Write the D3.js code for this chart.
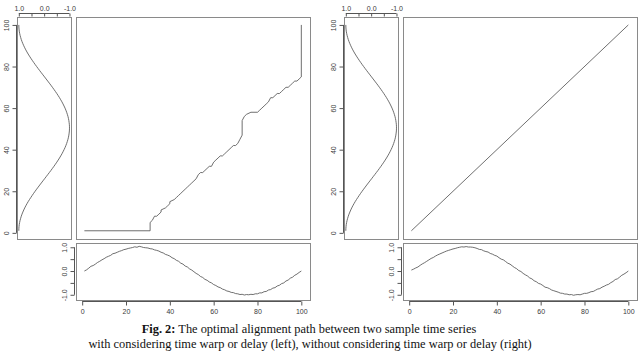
<!DOCTYPE html>
<html><head><meta charset="utf-8">
<script src="https://cdn.jsdelivr.net/npm/d3@7"></script>
<style>
html,body{margin:0;padding:0;background:#fff;}
svg{display:block;}
</style>
</head><body>
<script>
// ---------- DATA ----------
const indexTicks = [0, 20, 40, 60, 80, 100];
const valueTicks = [1.0, 0.5, 0.0, -0.5, -1.0];
const valueTickLabels = ["1.0", "", "0.0", "", "-1.0"];

// reference series (left, vertical panels)
const referenceLeft = [1.000,0.998,0.992,0.982,0.968,0.950,0.928,0.903,0.874,0.841,
0.805,0.766,0.724,0.679,0.631,0.580,0.527,0.472,0.415,0.357,
0.297,0.236,0.174,0.111,0.048,-0.016,-0.079,-0.142,-0.205,-0.267,
-0.327,-0.386,-0.444,-0.500,-0.554,-0.606,-0.655,-0.702,-0.745,-0.786,
-0.824,-0.858,-0.889,-0.916,-0.940,-0.960,-0.975,-0.987,-0.996,-1.000,
-1.000,-0.996,-0.987,-0.975,-0.960,-0.940,-0.916,-0.889,-0.858,-0.824,
-0.786,-0.745,-0.702,-0.655,-0.606,-0.554,-0.500,-0.444,-0.386,-0.327,
-0.267,-0.205,-0.142,-0.079,-0.016,0.048,0.111,0.174,0.236,0.297,
0.357,0.415,0.472,0.527,0.580,0.631,0.679,0.724,0.766,0.805,
0.841,0.874,0.903,0.928,0.950,0.968,0.982,0.992,0.998,1.000];
const referenceRight = referenceLeft.slice();

// query series (bottom panels)
const queryLeft = [0.00,0.05,0.12,0.20,0.23,0.29,0.36,0.41,0.47,0.52,
0.58,0.62,0.66,0.73,0.75,0.79,0.83,0.86,0.90,0.92,
0.95,0.97,0.99,1.02,1.00,1.04,1.02,0.99,0.98,0.97,
0.94,0.93,0.89,0.87,0.84,0.79,0.76,0.70,0.67,0.63,
0.56,0.52,0.45,0.41,0.33,0.29,0.21,0.17,0.09,0.04,
-0.03,-0.10,-0.15,-0.23,-0.27,-0.35,-0.39,-0.46,-0.50,-0.57,
-0.61,-0.67,-0.70,-0.76,-0.79,-0.84,-0.86,-0.90,-0.91,-0.95,
-0.96,-0.99,-0.98,-1.01,-0.99,-1.00,-0.98,-0.99,-0.96,-0.96,
-0.92,-0.92,-0.87,-0.86,-0.80,-0.78,-0.72,-0.70,-0.63,-0.60,
-0.53,-0.50,-0.42,-0.38,-0.30,-0.26,-0.18,-0.13,-0.06,0.00];
const queryRight = [0.04,0.08,0.13,0.17,0.24,0.30,0.35,0.41,0.47,0.53,
0.57,0.63,0.68,0.72,0.76,0.80,0.84,0.87,0.90,0.93,
0.95,0.98,1.00,1.02,1.01,1.03,1.01,1.01,1.00,0.98,
0.95,0.91,0.90,0.85,0.82,0.80,0.74,0.71,0.66,0.63,
0.56,0.50,0.47,0.40,0.33,0.29,0.22,0.15,0.10,0.02,
-0.02,-0.10,-0.16,-0.21,-0.29,-0.33,-0.41,-0.45,-0.52,-0.55,
-0.61,-0.68,-0.70,-0.74,-0.80,-0.83,-0.86,-0.89,-0.93,-0.94,
-0.97,-0.97,-1.00,-0.99,-1.02,-1.00,-0.99,-1.00,-0.97,-0.94,
-0.94,-0.91,-0.87,-0.86,-0.81,-0.76,-0.74,-0.68,-0.64,-0.59,
-0.56,-0.49,-0.44,-0.36,-0.33,-0.26,-0.18,-0.13,-0.07,0.00];

// alignment path (query index, reference index)
const pathLeftX = [1,31,31,32,33,34,35,36,36,38,39,40,40,42,43,44,45,46,47,48,49,50,51,52,53,54,55,56,57,58,59,60,61,62,63,64,65,66,67,68,69,70,71,72,73,73,74,75,77,80,81,82,83,84,85,86,87,88,89,90,91,92,93,94,95,96,97,98,99,100,100];
const pathLeftY = [1,1,5,6,8,8,9,10,11,12,13,14,15,16,17,18,19,20,21,22,23,24,25,26,28,29,29,30,31,32,32,34,35,36,37,37,38,39,40,41,42,42,43,45,47,54,56,57,58,58,59,60,61,62,63,65,65,66,67,67,68,69,70,70,71,72,73,73,74,75,100];
const pathRightX = [1,100];
const pathRightY = [1,100];

const captionBold = "Fig. 2:";
const captionLine1 = " The optimal alignment path between two sample time series";
const captionLine2 = "with considering time warp or delay (left), without considering time warp or delay (right)";

// ---------- DRAW ----------
const W = 640, H = 351;
const svg = d3.select("body").append("svg").attr("width", W).attr("height", H);
const lineCol = "#555", boxCol = "#8a8a8a", txtCol = "#3a3a3a";
const fontAx = "Liberation Sans, Arial, sans-serif";

const groups = [
  {off: 0, ref: referenceLeft, qry: queryLeft, px: pathLeftX, py: pathLeftY},
  {off: 327, ref: referenceRight, qry: queryRight, px: pathRightX, py: pathRightY}
];

function box(g, x0, y0, x1, y1) {
  g.append("rect").attr("x", Math.round(x0)+0.5).attr("y", Math.round(y0)+0.5)
    .attr("width", Math.round(x1)-Math.round(x0)).attr("height", Math.round(y1)-Math.round(y0))
    .attr("fill", "none").attr("stroke", boxCol).attr("stroke-width", 1);
}

groups.forEach(G => {
  const o = G.off;
  const g = svg.append("g");
  const idx = d3.range(1, 101);

  const mainX = d3.scaleLinear().domain([-2.96, 103.96]).range([o+75.7, o+310]);
  const mainY = d3.scaleLinear().domain([-2.96, 103.96]).range([239, 16.7]);
  const vertX = d3.scaleLinear().domain([1.06, -1.06]).range([o+17.3, o+71]);
  const botY = d3.scaleLinear().domain([-1.22, 1.18]).range([300, 243]);

  box(g, o+17.3, 16.7, o+71, 239);
  box(g, o+75.7, 16.7, o+310, 239);
  box(g, o+75.7, 243, o+310, 300);

  g.append("path").datum(idx)
    .attr("d", d3.line().x(i => vertX(G.ref[i-1])).y(i => mainY(i)))
    .attr("fill", "none").attr("stroke", lineCol).attr("stroke-width", 0.85);

  g.append("path").datum(d3.range(G.px.length))
    .attr("d", d3.line().x(k => mainX(G.px[k])).y(k => mainY(G.py[k])))
    .attr("fill", "none").attr("stroke", lineCol).attr("stroke-width", 0.85);

  g.append("path").datum(idx)
    .attr("d", d3.line().x(i => mainX(i)).y(i => botY(G.qry[i-1])))
    .attr("fill", "none").attr("stroke", lineCol).attr("stroke-width", 0.85);

  const topAx = g.append("g").attr("transform", "translate(0,13.5)")
    .call(d3.axisTop(vertX).tickValues(valueTicks).tickSize(-3)
      .tickFormat((d, i) => valueTickLabels[i]));
  topAx.select(".domain").attr("stroke", lineCol).attr("d", `M${vertX(1)},0H${vertX(-1)}`);
  topAx.selectAll(".tick line").attr("stroke", lineCol);
  topAx.selectAll(".tick text").attr("y", -3).attr("dy", "0em")
    .attr("fill", txtCol).style("font", `7px ${fontAx}`);

  const leftAx = g.append("g").attr("transform", `translate(${o+16.5},0)`)
    .call(d3.axisLeft(mainY).tickValues(indexTicks).tickSize(4).tickFormat(d3.format("d")));
  leftAx.select(".domain").attr("stroke", lineCol).attr("d", `M0,${mainY(0)}V${mainY(100)}`);
  leftAx.selectAll(".tick line").attr("stroke", lineCol);
  leftAx.selectAll(".tick text").attr("x", null).attr("dy", null)
    .attr("transform", "translate(-9,0) rotate(-90)")
    .attr("text-anchor", "middle").attr("dominant-baseline", "middle")
    .attr("fill", txtCol).style("font", `7px ${fontAx}`);

  const bAx = g.append("g").attr("transform", `translate(${o+74.5},0)`)
    .call(d3.axisLeft(botY).tickValues(valueTicks).tickSize(4)
      .tickFormat((d, i) => valueTickLabels[i]));
  bAx.select(".domain").attr("stroke", lineCol).attr("d", `M0,${botY(1)}V${botY(-1)}`);
  bAx.selectAll(".tick line").attr("stroke", lineCol);
  bAx.selectAll(".tick text").attr("x", null).attr("dy", null)
    .attr("transform", "translate(-9,0) rotate(-90)")
    .attr("text-anchor", "middle").attr("dominant-baseline", "middle")
    .attr("fill", txtCol).style("font", `7px ${fontAx}`);

  const xAx = g.append("g").attr("transform", "translate(0,301.5)")
    .call(d3.axisBottom(mainX).tickValues(indexTicks).tickSize(4).tickFormat(d3.format("d")));
  xAx.select(".domain").attr("stroke", lineCol).attr("d", `M${mainX(0)},0H${mainX(100)}`);
  xAx.selectAll(".tick line").attr("stroke", lineCol);
  xAx.selectAll(".tick text").attr("y", 12).attr("dy", "0em")
    .attr("fill", txtCol).style("font", `7px ${fontAx}`);
});

const cap = svg.append("g").style("font-family", "Liberation Serif, 'Times New Roman', serif")
  .style("font-size", "12.4px").attr("fill", "#111");
const t1 = cap.append("text").attr("x", 309).attr("y", 333).attr("text-anchor", "middle");
t1.append("tspan").attr("font-weight", "bold").text(captionBold);
t1.append("tspan").text(captionLine1);
cap.append("text").attr("x", 310).attr("y", 348).attr("text-anchor", "middle").text(captionLine2);
</script>
</body></html>
